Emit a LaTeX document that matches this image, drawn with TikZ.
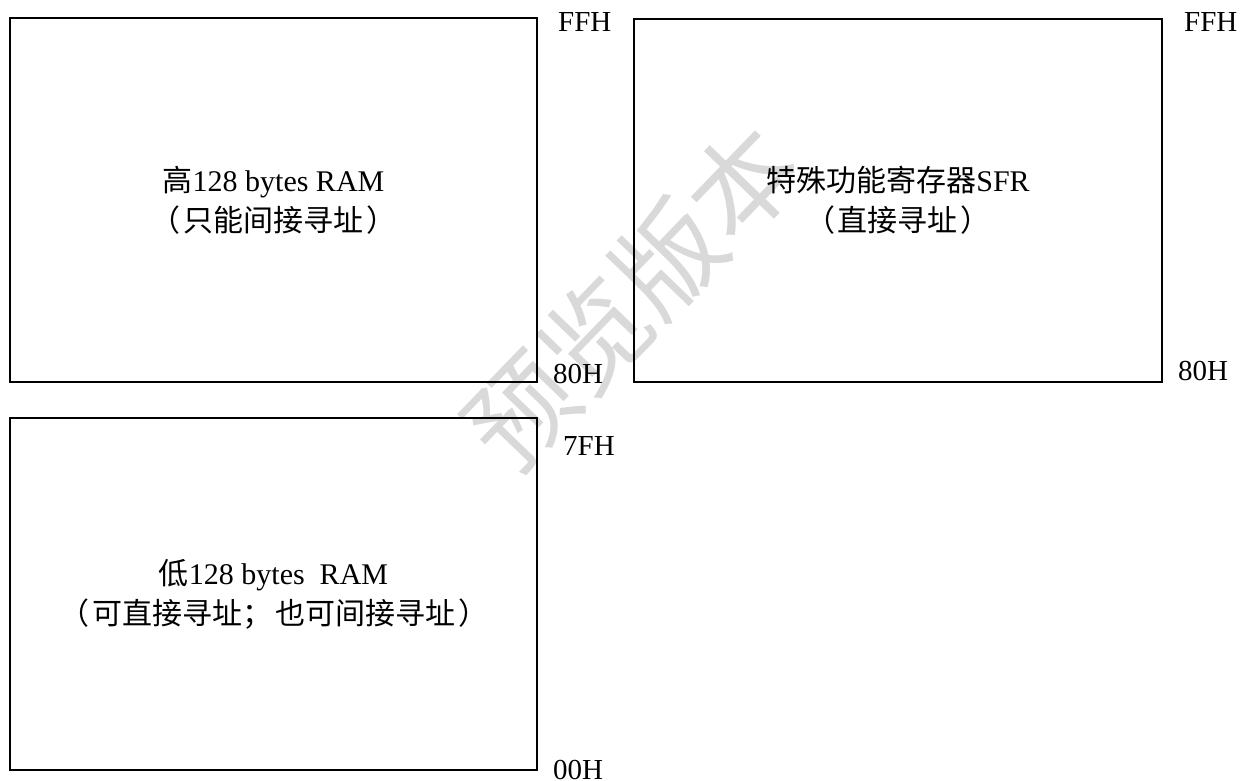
\documentclass[tikz,border=0pt]{standalone}
\usepackage{fontspec}
\setmainfont{Liberation Serif}
\newfontfamily\cjk{Noto Sans CJK SC}
\begin{document}
\begin{tikzpicture}[x=1pt,y=-1pt,
  membox/.style={draw=black, line width=1.5pt, rectangle, inner sep=0pt, align=center,
    font=\fontsize{30}{40}\selectfont},
  addr/.style={anchor=base west, inner sep=0pt, font=\fontsize{29}{35}\selectfont},
  wmark/.style={text=black!15, rotate=46, font=\cjk\fontsize{106}{106}\selectfont, inner sep=0pt}]
\useasboundingbox (0,0) rectangle (1247,780);
% watermark
\node[wmark] (wm) at (632,297) {预览版本};
% boxes
\node[membox, minimum width=527pt, minimum height=364pt] (hi) at (273.5,200)
  {{\cjk 高}128 bytes RAM\\{\cjk （\hspace{3pt}只能间接寻址\hspace{3pt}）}};
\node[membox, minimum width=528pt, minimum height=363pt] (sfr) at (898,200.5)
  {{\cjk 特殊功能寄存器}SFR\\{\cjk （\hspace{3pt}直接寻址\hspace{3pt}）}};
\node[membox, minimum width=527pt, minimum height=352pt] (lo) at (273.5,594)
  {{\cjk 低}128 bytes\ \ RAM\\{\cjk （\hspace{3pt}可直接寻址；\hspace{3pt}也可间接寻址\hspace{3pt}）}};
% address labels
\node[addr] (hiTop) at (558,31) {FFH};
\node[addr] (hiBot) at (553,383) {80H};
\node[addr] (sfrTop) at (1184,31) {FFH};
\node[addr] (sfrBot) at (1178,380) {80H};
\node[addr] (loTop) at (563,455) {7FH};
\node[addr] (loBot) at (553,779) {00H};
\end{tikzpicture}
\end{document}
